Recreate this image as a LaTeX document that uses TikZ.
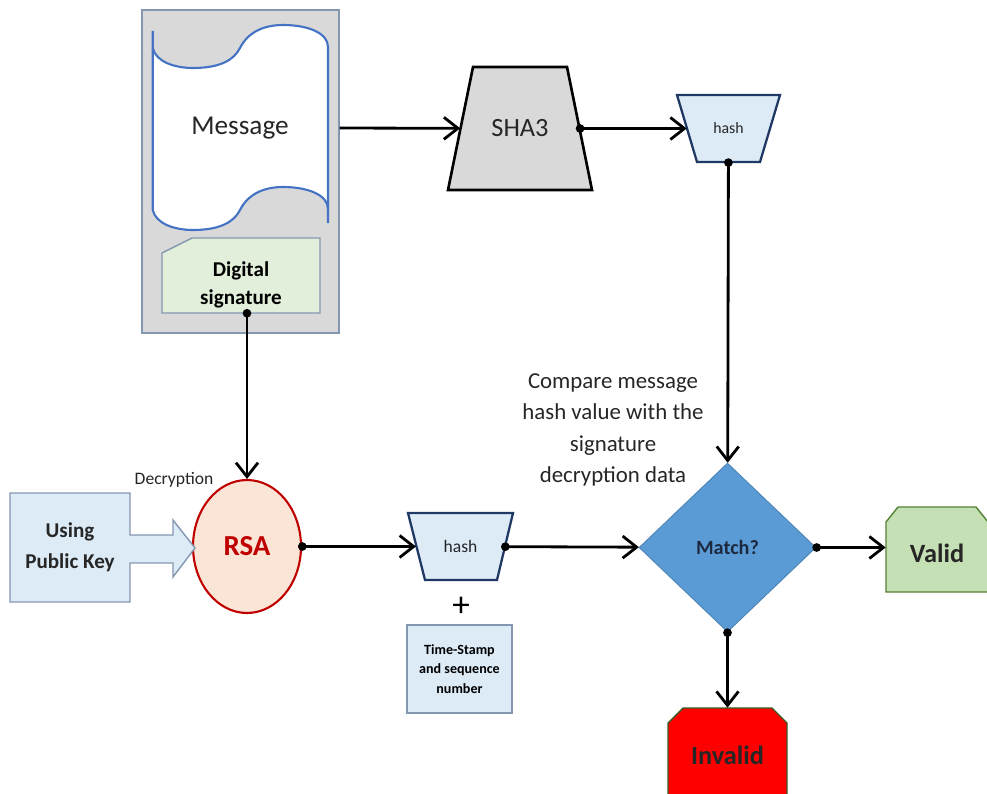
\documentclass[tikz,border=0pt]{standalone}
\usepackage{fontspec}
\setmainfont{Carlito}
\usetikzlibrary{shapes.geometric,arrows.meta}

\definecolor{boxgray}{HTML}{D9D9D9}
\definecolor{edgegray}{HTML}{8497B0}
\definecolor{msgblue}{HTML}{4472C4}
\definecolor{siggreen}{HTML}{E2EFDA}
\definecolor{hashfill}{HTML}{DDEBF7}
\definecolor{hashedge}{HTML}{1F3864}
\definecolor{matchblue}{HTML}{5B9BD5}
\definecolor{matchtext}{HTML}{1C2A3F}
\definecolor{validfill}{HTML}{C5E0B4}
\definecolor{validedge}{HTML}{548235}
\definecolor{invalidred}{HTML}{FF0000}
\definecolor{rsafill}{HTML}{FBE5D6}
\definecolor{rsared}{HTML}{C00000}
\definecolor{textdark}{HTML}{262626}

\tikzset{
  flow/.style={line width=1.6pt, shorten <=-0.8mm,
    {Circle[length=1.7mm]}-{Straight Barb[length=2.8mm,width=4.4mm]}},
  plainflow/.style={line width=1.6pt, -{Straight Barb[length=2.8mm,width=4.4mm]}},
  hashedge/.style={fill=hashfill, draw=hashedge, line width=1.3pt},
  hashtext/.style={rectangle, draw=none, inner sep=0pt, text=textdark,
    minimum height=1.34cm},
  infobox/.style={rectangle, fill=hashfill, draw=edgegray, line width=0.8pt, align=center},
  endbox/.style={rectangle, draw=none, font=\fontsize{15}{18}\selectfont\bfseries},
}

\begin{document}
\begin{tikzpicture}[x=0.02cm,y=-0.02cm]
  \useasboundingbox (0,0) rectangle (987,794);

  % document with message and signature
  \node[rectangle, fill=boxgray, draw=edgegray, line width=0.8pt,
    minimum width=3.94cm, minimum height=6.46cm] (docbox) at (240.5,171.5) {};
  \fill[white] (152.7,48) .. controls (156,62) and (175,68) .. (193,68)
    .. controls (220,68) and (234,60) .. (240,48)
    .. controls (248,32) and (264,25) .. (283,25)
    .. controls (308,25) and (328,33) .. (328,47) -- (328,209)
    .. controls (328,195) and (308,187) .. (283,187)
    .. controls (264,187) and (248,194) .. (240,210)
    .. controls (234,222) and (220,230) .. (193,230)
    .. controls (175,230) and (156,224) .. (152.7,210) -- cycle;
  \draw[msgblue, line width=1.2pt] (152.7,31) -- (152.7,48)
    .. controls (156,62) and (175,68) .. (193,68)
    .. controls (220,68) and (234,60) .. (240,48)
    .. controls (248,32) and (264,25) .. (283,25)
    .. controls (308,25) and (328,33) .. (328,47) -- (328,223);
  \draw[msgblue, line width=1.2pt] (152.7,48) -- (152.7,210)
    .. controls (156,224) and (175,230) .. (193,230)
    .. controls (220,230) and (234,222) .. (240,210)
    .. controls (248,194) and (264,187) .. (283,187)
    .. controls (308,187) and (328,195) .. (328,209);
  \node[text=textdark, font=\fontsize{15.5}{18}\selectfont] (msg) at (240,128) {Message};
  \draw[fill=siggreen, draw=edgegray, line width=0.8pt] (162,313) -- (162,253)
    -- (192,238) -- (320,238) -- (320,313) -- cycle;
  \node[align=center, font=\fontsize{12}{16}\selectfont\bfseries]
    (digsig) at (241,285) {Digital\\signature};
  \coordinate (sigfoot) at (241,313);

  % hashing of the message
  \draw[fill=boxgray, draw=black, line width=1.5pt]
    (473,67) -- (567,67) -- (592,190) -- (448,190) -- cycle;
  \node[rectangle, inner sep=0pt, minimum width=2.38cm, minimum height=2.46cm,
    text=textdark, font=\fontsize{15}{18}\selectfont] (sha3) at (520,128.5) {SHA3};
  \draw[hashedge] (677,95) -- (780,95) -- (760,162) -- (697,162) -- cycle;
  \node[hashtext, minimum width=1.66cm, font=\fontsize{9}{11}\selectfont]
    (hash1) at (728.5,128.5) {hash};

  % decryption of the signature
  \node[ellipse, minimum width=2.16cm, minimum height=2.66cm, fill=rsafill,
    draw=rsared, line width=1.2pt, text=rsared,
    font=\fontsize{16.5}{20}\selectfont\bfseries] (rsa) at (247,546.5) {RSA};
  \node[text=textdark, font=\fontsize{10}{12}\selectfont] (declabel) at (174,480) {Decryption};
  \draw[fill=hashfill, draw=edgegray, line width=0.8pt] (10,493) -- (130,493)
    -- (130,535) -- (173,535) -- (173,520) -- (195,548) -- (173,577)
    -- (173,563) -- (130,563) -- (130,602) -- (10,602) -- cycle;
  \node[align=center, text=textdark, font=\fontsize{12}{17.6}\selectfont\bfseries]
    (pubkey) at (70,547.5) {Using\\Public Key};
  \draw[hashedge] (408,513) -- (513,513) -- (497,580) -- (425,580) -- cycle;
  \node[hashtext, minimum width=1.77cm, font=\fontsize{10}{12}\selectfont]
    (hash2) at (460.5,546.5) {hash};
  \node[font=\fontsize{20}{22}\selectfont] (plus) at (461,607) {+};
  \node[infobox, minimum width=2.1cm, minimum height=1.76cm,
    font=\fontsize{8}{11}\selectfont\bfseries] (stamp) at (459.5,669)
    {Time-Stamp\\and sequence\\number};

  % comparison
  \node[align=center, text=textdark, font=\fontsize{13}{17.8}\selectfont] (cmp) at (613,430)
    {Compare message\\hash value with the\\signature\\decryption data};
  \node[diamond, minimum width=3.54cm, minimum height=3.38cm, inner sep=0pt,
    fill=matchblue, draw=matchblue!85!black, line width=0.5pt, text=matchtext,
    font=\fontsize{11.5}{14}\selectfont\bfseries] (match) at (727.5,547.5) {Match?};
  \draw[fill=validfill, draw=validedge, line width=0.8pt] (886,592) -- (886,522)
    -- (898,507) -- (976,507) -- (988,522) -- (988,592) -- cycle;
  \node[endbox, text=black!85, minimum width=2.04cm, minimum height=1.7cm]
    (valid) at (937,553) {Valid};
  \draw[fill=invalidred, draw=validedge!70!black, line width=0.8pt] (668,803)
    -- (668,723) -- (683,708) -- (772,708) -- (787,723) -- (787,803) -- cycle;
  \node[endbox, text=black!85, minimum width=2.38cm, minimum height=1.9cm]
    (invalid) at (727.5,755.5) {Invalid};

  % connectors
  \draw[plainflow] (docbox.east |- msg) -- (sha3);
  \draw[flow] (sha3) -- (hash1);
  \draw[flow] (hash1) -- (match);
  \draw[flow] (rsa |- sigfoot) -- (rsa);
  \draw[flow] (rsa) -- (hash2);
  \draw[flow] (hash2) -- (match);
  \draw[flow] (match) -- (valid.west |- match);
  \draw[flow] (match) -- (invalid.north);
\end{tikzpicture}
\end{document}
